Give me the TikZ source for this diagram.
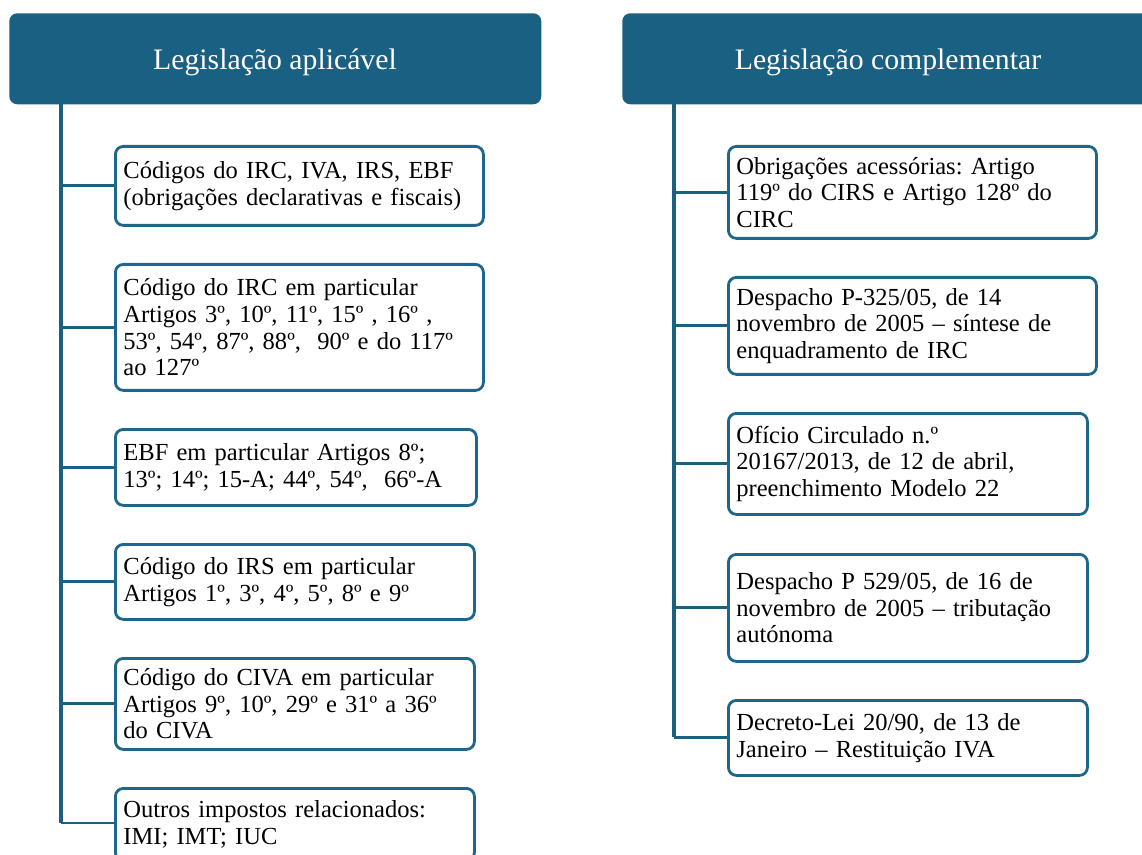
\documentclass[tikz,border=0pt]{standalone}
\usepackage{fontspec}
\setmainfont{Liberation Serif}
\frenchspacing
\definecolor{legblue}{RGB}{26,96,130}
\definecolor{legedge}{RGB}{30,102,138}
\tikzset{
  header/.style={fill=legblue, draw=none, rounded corners=6, anchor=north west, inner sep=0pt},
  headtext/.style={text=white, font=\fontsize{22.3}{26}\selectfont, inner sep=0pt},
  item/.style={draw=legedge, line width=2.1pt, fill=white, rounded corners=6,
    anchor=north west, align=left, inner xsep=6pt, inner ysep=0pt,
    font=\fontsize{18.4}{20}\selectfont, text=black},
  trunk/.style={draw=legblue, line width=2.4pt},
  branch/.style={draw=legblue, line width=2.2pt},
}
\begin{document}
\begin{tikzpicture}[x=0.75pt, y=-0.75pt]
\useasboundingbox (0,0) rectangle (1142,855);
\clip (0,0) rectangle (1142,855);

% column headers
\node[header, minimum width=532*0.75pt, minimum height=91*0.75pt] (hl) at (9,13) {};
\node[headtext] (hlt) at (275,62) {Legislação aplicável};
\node[header, minimum width=540*0.75pt, minimum height=91*0.75pt] (hr) at (622,13) {};
\node[headtext] (hrt) at (888,62) {Legislação complementar};

% left column
\node[item, text width=352*0.75pt, minimum height=79*0.75pt] (l1) at (114,145)
  {Códigos do IRC, IVA, IRS, EBF\\(obrigações declarativas e fiscais)};
\node[item, text width=352*0.75pt, minimum height=126*0.75pt] (l2) at (114,263)
  {Código do IRC em particular\\Artigos 3º, 10º, 11º, 15º , 16º ,\\53º, 54º, 87º, 88º,~ 90º e do 117º\\ao 127º};
\node[item, text width=345*0.75pt, minimum height=76*0.75pt] (l3) at (114,428)
  {EBF em particular Artigos 8º;\\13º; 14º; 15-A; 44º, 54º,~ 66º-A};
\node[item, text width=343*0.75pt, minimum height=75*0.75pt] (l4) at (114,543)
  {Código do IRS em particular\\Artigos 1º, 3º, 4º, 5º, 8º e 9º};
\node[item, text width=343*0.75pt, minimum height=91*0.75pt] (l5) at (114,657)
  {Código do CIVA em particular\\Artigos 9º, 10º, 29º e 31º a 36º\\do CIVA};
\node[item, text width=343*0.75pt, minimum height=72*0.75pt] (l6) at (114,787)
  {Outros impostos relacionados:\\IMI; IMT; IUC};

\coordinate (lt) at (61,104);
\coordinate (lb) at (61,823);
\draw[trunk] (lt) -- (lb);
\foreach \n in {l1,l2,l3,l4,l5}
  \draw[branch] (lt |- \n.west) -- (\n.west);
\draw[branch] (lb) -- (lb -| l6.west);

% right column
\node[item, text width=352*0.75pt, minimum height=92*0.75pt] (r1) at (727,145)
  {Obrigações acessórias: Artigo\\119º do CIRS e Artigo 128º do\\CIRC};
\node[item, text width=352*0.75pt, minimum height=97*0.75pt] (r2) at (727,276)
  {Despacho P-325/05, de 14\\novembro de 2005 – síntese de\\enquadramento de IRC};
\node[item, text width=343*0.75pt, minimum height=101*0.75pt] (r3) at (727,412)
  {Ofício Circulado n.º\\20167/2013, de 12 de abril,\\preenchimento Modelo 22};
\node[item, text width=343*0.75pt, minimum height=107*0.75pt] (r4) at (727,553)
  {Despacho P 529/05, de 16 de\\novembro de 2005 – tributação\\autónoma};
\node[item, text width=343*0.75pt, minimum height=75*0.75pt] (r5) at (727,699)
  {Decreto-Lei 20/90, de 13 de\\Janeiro – Restituição IVA};

\coordinate (rt) at (674,104);
\coordinate (rb) at (674,737);
\draw[trunk] (rt) -- (rb);
\foreach \n in {r1,r2,r3,r4,r5}
  \draw[branch] (rt |- \n.west) -- (\n.west);
\end{tikzpicture}
\end{document}
